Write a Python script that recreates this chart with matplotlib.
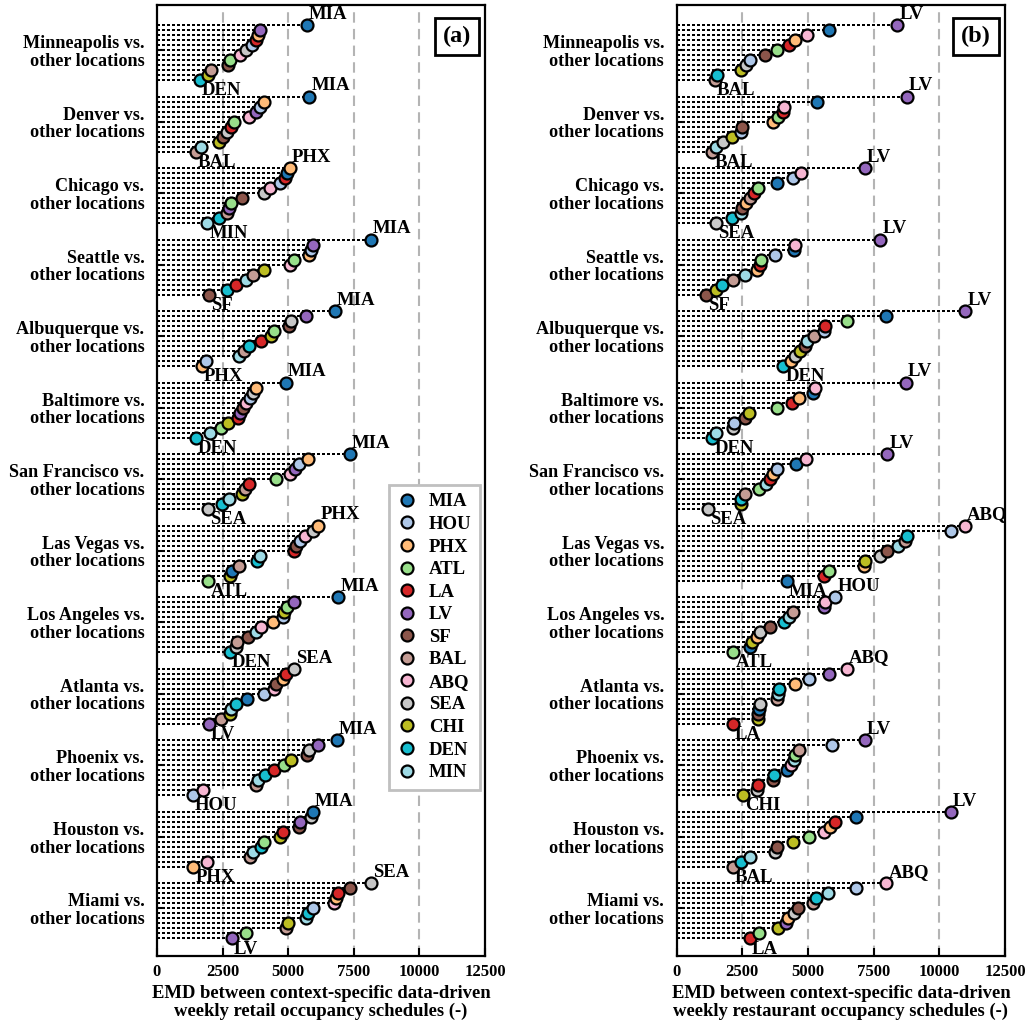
import numpy as np
import matplotlib
matplotlib.use("Agg")
import matplotlib.pyplot as plt
from matplotlib.lines import Line2D

plt.rcParams['font.family'] = ['Liberation Serif', 'DejaVu Serif']
plt.rcParams['font.weight'] = 'bold'

# location codes (legend order) and their colours
codes = ['MIA', 'HOU', 'PHX', 'ATL', 'LA', 'LV', 'SF', 'BAL', 'ABQ', 'SEA', 'CHI', 'DEN', 'MIN']
colors = ['#1f77b4', '#aec7e8', '#ffbb78', '#98df8a', '#d62728', '#9467bd', '#8c564b',
          '#c49c94', '#f7b6d2', '#c7c7c7', '#bcbd22', '#17becf', '#9edae5']

# reference locations, top to bottom
groups = ['Minneapolis', 'Denver', 'Chicago', 'Seattle', 'Albuquerque', 'Baltimore',
          'San Francisco', 'Las Vegas', 'Los Angeles', 'Atlanta', 'Phoenix', 'Houston', 'Miami']

nan = np.nan
# EMD values, one row per reference location, columns in `codes` order
retail = [
    [5705, 3608, 3860, 2782, 3773, 3925, 2718, 2045, 3163, 3392, 1955, 1640, nan],
    [5805, 3925, 4090, 2947, 2820, 3773, 2502, 1474, 3518, 2680, 2375, nan, 1677],
    [4942, 4688, 5068, 2808, 4878, 2744, 3252, 2680, 4307, 4090, nan, 2363, 1918],
    [8144, 5869, 5805, 5221, 3011, 5933, 1982, 3670, 5068, nan, 4078, 2680, 3379],
    [6784, 1867, 1703, 4459, 3950, 5678, 5040, 3328, nan, 5090, 4332, 3518, 3137],
    [4916, 3544, 3773, 2439, 3074, 3163, 3290, nan, 3379, 3646, 2693, 1486, 2020],
    [7355, 5424, 5742, 4535, 3518, 5259, nan, 3354, 5068, 1930, 3227, 2464, 2744],
    [2846, 5450, 6148, 1955, 5221, nan, 5284, 3137, 5640, 5933, 2782, 3823, 3925],
    [6911, 4789, 4434, 4942, nan, 5234, 3480, 3062, 3950, 3011, 4853, 2782, 3773],
    [3418, 4090, 4815, nan, 4916, 1982, 4535, 2439, 4459, 5221, 2800, 2998, 2830],
    [6848, 1360, nan, 4853, 4459, 6148, 5729, 3773, 1766, 5805, 5094, 4116, 3860],
    [5933, nan, 1386, 4090, 4789, 5450, 5411, 3544, 1892, 5869, 4688, 3963, 3646],
    [nan, 5933, 6822, 3392, 6886, 2846, 7355, 4904, 6759, 8144, 4980, 5767, 5665],
]
restaurant = [
    [5791, 2792, 4514, 3813, 4284, 8407, 3366, 1452, 4961, 2626, 2435, 1516, nan],
    [5332, 2450, 3672, 3863, 4050, 8751, 2473, 1350, 4093, 1758, 2116, nan, 1478],
    [3838, 4413, 2626, 3111, 2945, 7155, 2499, 2792, 4732, 1478, nan, 2090, 2435],
    [4460, 3736, 3072, 3226, 3162, 7756, 1122, 2155, 4502, nan, 1478, 1734, 2588],
    [7985, 5620, 4349, 6492, 5662, 10983, 4900, 5241, nan, 4502, 4705, 4054, 4961],
    [5179, 2178, 4667, 3801, 4387, 8724, 2588, nan, 5267, 2150, 2753, 1350, 1504],
    [4540, 3813, 3648, 3135, 3556, 8024, nan, 2588, 4923, 1183, 2440, 2461, 3392],
    [4196, 10435, 7120, 5815, 5623, nan, 8024, 8700, 10983, 7729, 7155, 8751, 8433],
    [2792, 6045, 3047, 2155, nan, 5600, 3556, 4413, 5662, 3174, 2882, 4093, 4284],
    [3135, 5026, 4502, nan, 2140, 5815, 3110, 3800, 6492, 3174, 3100, 3901, 3850],
    [4196, 5906, nan, 4514, 3098, 7155, 3650, 4667, 4349, 3060, 2538, 3686, 4470],
    [6837, nan, 5853, 5026, 6045, 10447, 3813, 2140, 5623, 3760, 4413, 2435, 2792],
    [nan, 6837, 4222, 3135, 2779, 4180, 4605, 5200, 7985, 4452, 3839, 5306, 5777],
]

xticks = [0, 2500, 5000, 7500, 10000, 12500]
xlabels = ['EMD between context-specific data-driven\nweekly retail occupancy schedules (-)',
           'EMD between context-specific data-driven\nweekly restaurant occupancy schedules (-)']

STEP = 0.07
FS = 13.5
MS = 8.6


def draw_panel(ax, data, tag, xlabel):
    for v in xticks[1:-1]:
        ax.axvline(v, color='#b4b4b4', ls=(0, (5, 3)), lw=1.5, zorder=1)

    for g, row in enumerate(data):
        vals = np.array(row, dtype=float)
        order = [i for i in np.argsort(-vals) if not np.isnan(vals[i])]
        ys = [g - 0.35 + r * STEP for r in range(len(order))]
        for y, i in zip(ys, order):
            ax.plot([0, vals[i]], [y, y], ls=(0, (1, 0.9)), color='k', lw=1.6,
                    antialiased=False, zorder=2)
        for r in range(len(order) - 1, -1, -1):
            i = order[r]
            ax.plot(vals[i], ys[r], 'o', ms=MS, mfc=colors[i], mec='k', mew=1.6,
                    zorder=3 + (len(order) - r) * 0.01)
        top, bot = order[0], order[-1]
        ax.annotate(codes[top], (vals[top], ys[0]), xytext=(1.5, 4.5),
                    textcoords='offset points', ha='left', va='baseline',
                    fontsize=FS, fontweight='bold')
        ax.annotate(codes[bot], (vals[bot], ys[-1]), xytext=(1.5, -1.5),
                    textcoords='offset points', ha='left', va='top',
                    fontsize=FS, fontweight='bold')

    ax.set_xlim(0, 12500)
    ax.set_ylim(12.666, -0.629)
    ax.set_xticks(xticks)
    ax.set_xticklabels([str(t) for t in xticks], fontsize=12, fontweight='bold')
    ax.set_yticks(range(len(groups)))
    ax.set_yticklabels([f'{n} vs.\nother locations' for n in groups],
                       fontsize=13.1, fontweight='bold', linespacing=1.05)
    ax.tick_params(direction='in', length=6, width=1.5, pad=6)
    ax.tick_params(axis='y', pad=9)
    for s in ax.spines.values():
        s.set_linewidth(1.6)
    ax.set_xlabel(xlabel, fontsize=13.4, fontweight='bold', labelpad=3,
                  linespacing=1.05)
    ax.text(0.957, 0.978, tag, transform=ax.transAxes, ha='right', va='top',
            fontsize=17.5, fontweight='bold', zorder=10,
            bbox=dict(boxstyle='square,pad=0.32', fc='white', ec='black', lw=2))


fig = plt.figure(figsize=(10.3, 10.28), dpi=100)
ax_a = fig.add_axes([0.1524, 0.070, 0.3185, 0.9251])
ax_b = fig.add_axes([0.6570, 0.070, 0.3187, 0.9251])

draw_panel(ax_a, retail, '(a)', xlabels[0])
draw_panel(ax_b, restaurant, '(b)', xlabels[1])

handles = [Line2D([], [], ls='None', marker='o', ms=MS, mfc=c, mec='k', mew=1.6)
           for c in colors]
leg = ax_a.legend(handles, codes, loc='lower right', bbox_to_anchor=(0.985, 0.175),
                  frameon=True, fancybox=False, edgecolor='#c0c0c0',
                  framealpha=1, labelspacing=0.29, handlelength=1.0, handletextpad=0.7,
                  borderpad=0.45, borderaxespad=0.0, prop={'weight': 'bold', 'size': FS})
leg.get_frame().set_linewidth(2)

fig.savefig('out.png', dpi=100)
